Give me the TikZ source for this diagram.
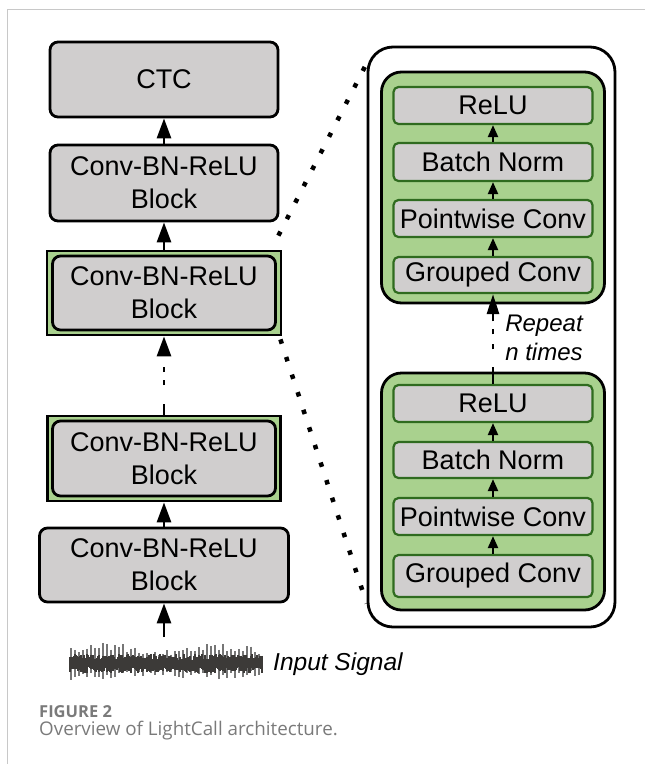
\documentclass[tikz,border=0pt]{standalone}
\usepackage{fontspec}
\setmainfont{Liberation Sans}
\newfontfamily\capfont{Open Sans}
\usetikzlibrary{math,arrows.meta}

\definecolor{boxgray}{HTML}{D0CECE}
\definecolor{grpgreen}{HTML}{A9D18E}
\definecolor{opgreen}{HTML}{2F6B1F}
\definecolor{wavegray}{HTML}{3C3A38}
\definecolor{spikegray}{HTML}{767676}
\definecolor{capgray}{HTML}{7A7A7A}
\definecolor{framegray}{HTML}{C8C8C8}

\begin{document}
\begin{tikzpicture}[x=1pt, y=-1pt,
	blk/.style={draw, line width=2.8pt, rounded corners=8pt, fill=boxgray, align=center, inner sep=0pt, font=\fontsize{27}{33}\selectfont},
	grp/.style={draw, line width=2.8pt, fill=grpgreen, inner sep=0pt},
	op/.style={draw=opgreen, line width=2.2pt, rounded corners=5pt, fill=boxgray, inner sep=0pt, minimum width=199pt, font=\fontsize{27}{30}\selectfont},
	up/.style={-{Triangle[length=20pt,width=14pt]}, line width=2.8pt},
	upsmall/.style={-{Triangle[length=12pt,width=10pt]}, line width=2.2pt},
	zoomline/.style={line width=4.5pt, dash pattern=on 4.5pt off 14pt},
]
	% Constants
	\tikzmath{\colx = 164; \panx = 493;}

	\useasboundingbox (0,0) rectangle (645,764);
	\draw[framegray, line width=1pt] (7,764) -- (7,9) -- (645,9);

	% Left column
	\node[blk, minimum width=228pt, minimum height=75pt] (ctc) at (\colx,79.5) {CTC};
	\node[blk, minimum width=228pt, minimum height=76pt] (blkA) at (\colx,183) {Conv-BN-ReLU\\Block};
	\node[grp, minimum width=234pt, minimum height=84pt] (frmA) at (\colx,293) {};
	\node[blk, minimum width=223pt, minimum height=74pt] (blkB) at (\colx,293) {Conv-BN-ReLU\\Block};
	\node[grp, minimum width=233pt, minimum height=85pt] (frmB) at (\colx,458.5) {};
	\node[blk, minimum width=223pt, minimum height=75pt] (blkC) at (\colx,458.5) {Conv-BN-ReLU\\Block};
	\node[blk, minimum width=249pt, minimum height=74pt] (blkD) at (\colx,565) {Conv-BN-ReLU\\Block};

	% Input signal
	\pgfmathsetseed{11}
	\foreach \i in {0,4,...,188} {
		\pgfmathsetmacro\ha{(12+10*rnd)*(0.8+0.2*sin(3*\i))}
		\pgfmathsetmacro\hb{8+9*rnd}
		\draw[spikegray, line width=1.4pt] (71+\i,663-\ha) -- (71+\i,663+\hb);
	}
	\foreach \i in {0,...,192} {
		\pgfmathsetmacro\ha{4+6*rnd}
		\pgfmathsetmacro\hb{3+6*rnd}
		\draw[wavegray, line width=1.1pt] (70+\i,664-\ha) -- (70+\i,664+\hb);
	}
	\coordinate (wave) at (\colx,637);
	\node[anchor=base west, inner sep=0pt, font=\itshape\fontsize{24.5}{28}\selectfont] (sig) at (273,670) {Input Signal};

	\draw[up] (wave) -- (blkD.south);
	\draw[up] (blkD.north) -- (frmB.south);
	\draw[up, dash pattern=on 11pt off 18.5pt on 5pt off 8pt on 5pt off 30pt] (frmB.north) -- (frmA.south);
	\draw[up] (frmA.north) -- (blkA.south);
	\draw[up] (blkA.north) -- (ctc.south);

	% Zoomed view
	\node[draw, line width=2.8pt, rounded corners=25pt, minimum width=247pt, minimum height=580pt] (zoom) at (491.5,337) {};
	\draw[zoomline] ([shift={(-4,-14)}]frmA.north east) -- ([shift={(4,10)}]zoom.north west);
	\draw[zoomline] ([shift={(-2,3)}]frmA.south east) -- ([shift={(0,-25)}]zoom.south west);

	\node[grp, rounded corners=20pt, minimum width=223pt, minimum height=231pt] (panA) at (\panx,187.5) {};
	\node[op, minimum height=37pt] (reluA) at (\panx,105.5) {ReLU};
	\node[op, minimum height=38pt] (bnA) at (\panx,162) {Batch Norm};
	\node[op, minimum height=37pt] (pwA) at (\panx,218.5) {Pointwise Conv};
	\node[op, minimum height=36pt] (gcA) at (\panx,275) {Grouped Conv};

	\node[grp, rounded corners=20pt, minimum width=223pt, minimum height=237pt] (panB) at (\panx,491.5) {};
	\node[op, minimum height=37pt] (reluB) at (\panx,403.5) {ReLU};
	\node[op, minimum height=36pt] (bnB) at (\panx,460) {Batch Norm};
	\node[op, minimum height=37pt] (pwB) at (\panx,516.5) {Pointwise Conv};
	\node[op, minimum height=42pt] (gcB) at (\panx,576) {Grouped Conv};

	\foreach \p in {A,B} {
		\draw[upsmall] (gc\p.north) -- (pw\p.south);
		\draw[upsmall] (pw\p.north) -- (bn\p.south);
		\draw[upsmall] (bn\p.north) -- (relu\p.south);
	}
	\draw[-{Triangle[length=20pt,width=12pt]}, line width=2.8pt, dash pattern=on 17pt off 17.5pt on 5pt off 10pt on 5pt off 8pt on 12pt] (reluB.north) -- (gcA.south);
	\node[align=center, inner sep=0pt, font=\itshape\fontsize{24}{29}\selectfont] (rep) at (544,338) {Repeat\\n times};

	% Caption
	\node[anchor=base west, inner sep=0pt, text=capgray, font=\capfont\bfseries\fontsize{16.5}{18}\selectfont] (fig) at (39,717) {FIGURE 2};
	\node[anchor=base west, inner sep=0pt, text=capgray, font=\capfont\fontsize{18.8}{21}\selectfont] (cap) at (39,735) {Overview of LightCall architecture.};
\end{tikzpicture}
\end{document}
